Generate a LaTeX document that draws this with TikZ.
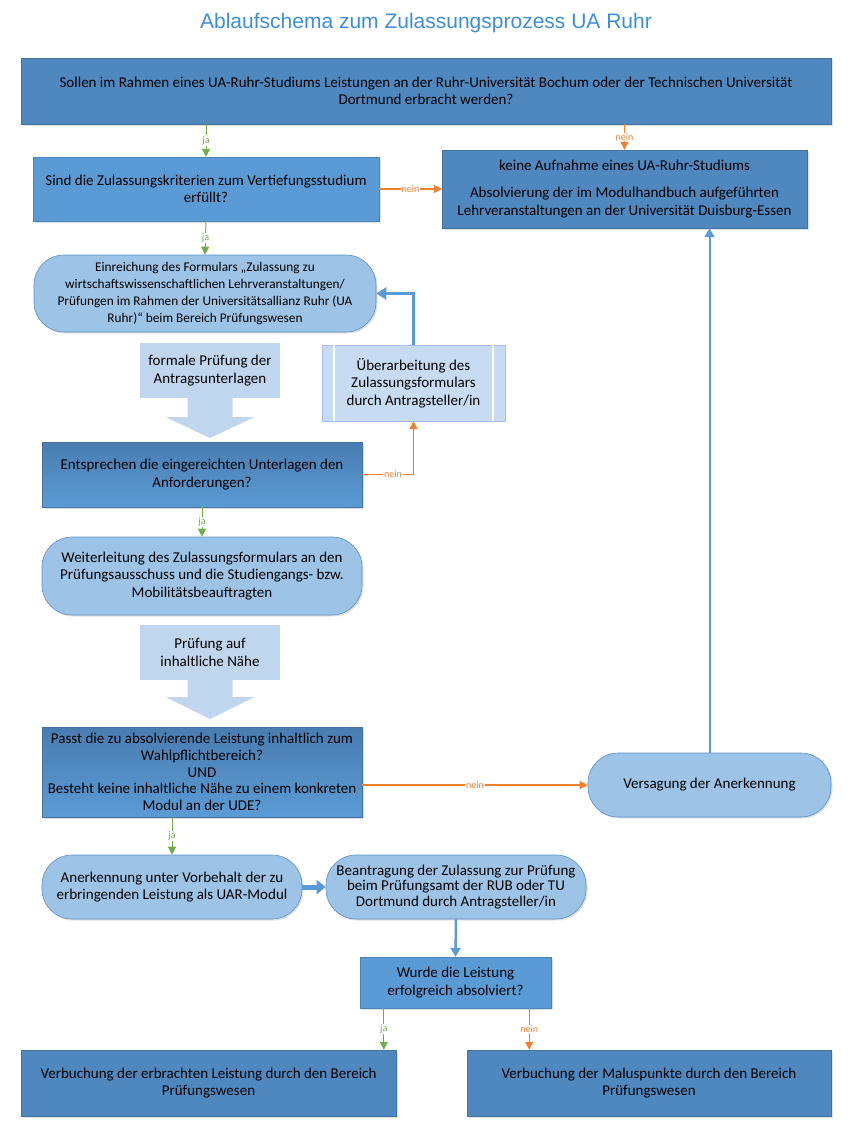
\documentclass[tikz,border=0pt]{standalone}
\usepackage{fontspec}
\setmainfont{Carlito}
\newfontfamily\titlefont{Liberation Sans}
\usepackage{tikz}
\usetikzlibrary{arrows.meta}
\usetikzlibrary{calc}
\usetikzlibrary{shadows}
\definecolor{blueDark}{HTML}{4F87BF}
\definecolor{blueMid}{HTML}{5B9BD5}
\definecolor{blueLight}{HTML}{9DC3E6}
\definecolor{blueEdge}{HTML}{5A8FCB}
\definecolor{bluePale}{HTML}{BFD6EE}
\definecolor{blueProc}{HTML}{C7DCF2}
\definecolor{blueLine}{HTML}{5B9BD5}
\definecolor{titleBlue}{HTML}{3C8DDD}
\definecolor{jaGreen}{HTML}{70AD47}
\definecolor{neinOrange}{HTML}{F07F2E}
\tikzset{
	titlestyle/.style={font=\titlefont\fontsize{21}{24}\selectfont,text=titleBlue},
	darkbox/.style={rectangle,fill=blueDark,draw=blueDark!85!black,line width=0.4pt,align=center,inner sep=2pt,
		drop shadow={shadow xshift=1.5pt,shadow yshift=-1.5pt,opacity=0.25}},
	midbox/.style={darkbox,fill=blueMid,draw=blueMid!85!black},
	shadebox/.style={darkbox,top color=blueDark!92!black,bottom color=blueMid},
	roundbox/.style={rectangle,rounded corners=30pt,fill=blueLight,draw=blueEdge,line width=0.6pt,align=center,inner sep=2pt,
		drop shadow={shadow xshift=1.5pt,shadow yshift=-1.5pt,opacity=0.25}},
	arrowbox/.style={rectangle,fill=bluePale,align=center,inner sep=2pt},
	procbox/.style={rectangle,fill=blueProc,draw=blueProc!85!blue,line width=0.4pt,align=center,inner sep=2pt},
	jaline/.style={draw=jaGreen,line width=1pt,-{Triangle[width=8pt,length=8pt]}},
	neinline/.style={draw=neinOrange,line width=1.2pt,-{Triangle[width=8pt,length=8pt]}},
	jalabel/.style={fill=white,inner sep=1pt,text=jaGreen,font=\fontsize{10}{10}\selectfont},
	neinlabel/.style={fill=white,inner sep=1pt,text=neinOrange,font=\fontsize{10}{10}\selectfont},
	blueline/.style={draw=blueLine,line width=2pt,-{Triangle[width=10pt,length=9pt]}}
}
\begin{document}
\begin{tikzpicture}[x=1pt,y=-1pt]
	\fontsize{15}{17.5}\selectfont
	\useasboundingbox (0,0) rectangle (854,1148);
	\node[titlestyle] (titel) at (426,23) {Ablaufschema zum Zulassungsprozess UA Ruhr};
	\node[darkbox,minimum width=810,minimum height=66] (frage) at (426,91) {Sollen im Rahmen eines UA-Ruhr-Studiums Leistungen an der Ruhr-Universität Bochum oder der Technischen Universität\\Dortmund erbracht werden?};
	\node[midbox,minimum width=346,minimum height=64] (kriterien) at (206,189) {Sind die Zulassungskriterien zum Vertiefungsstudium\\erfüllt?};
	\node[darkbox,minimum width=365,minimum height=78] (keine) at (624.5,189) {keine Aufnahme eines UA-Ruhr-Studiums\\[10pt]Absolvierung der im Modulhandbuch aufgeführten\\Lehrveranstaltungen an der Universität Duisburg-Essen};
	\node[roundbox,minimum width=342,minimum height=77,font=\fontsize{13.3}{16.7}\selectfont] (einreichung) at (205,293.5) {Einreichung des Formulars „Zulassung zu\\wirtschaftswissenschaftlichen Lehrveranstaltungen/\\Prüfungen im Rahmen der Universitätsallianz Ruhr (UA\\Ruhr)“ beim Bereich Prüfungswesen};
	\node[arrowbox,minimum width=140,minimum height=55] (formal) at (210,370.5) {formale Prüfung der\\Antragsunterlagen};
	\fill[bluePale] (187.5,398) -- (232.5,398) -- (232.5,417) -- (254.5,417) -- (210,438) -- (165.5,417) -- (187.5,417) -- cycle;
	\node[procbox,minimum width=183,minimum height=76] (ueberarbeitung) at (413.5,383) {Überarbeitung des\\Zulassungsformulars\\durch Antragsteller/in};
	\draw[white,line width=1.5pt] ([xshift=12pt]ueberarbeitung.north west) -- ([xshift=12pt]ueberarbeitung.south west);
	\draw[white,line width=1.5pt] ([xshift=-12pt]ueberarbeitung.north east) -- ([xshift=-12pt]ueberarbeitung.south east);
	\node[shadebox,minimum width=320,minimum height=65] (entsprechen) at (202,474.5) {Entsprechen die eingereichten Unterlagen den\\Anforderungen?};
	\node[roundbox,minimum width=320,minimum height=78] (weiterleitung) at (202,576) {Weiterleitung des Zulassungsformulars an den\\Prüfungsausschuss und die Studiengangs- bzw.\\Mobilitätsbeauftragten};
	\node[arrowbox,minimum width=140,minimum height=55] (inhalt) at (210,652.5) {Prüfung auf\\inhaltliche Nähe};
	\fill[bluePale] (187.5,680) -- (232.5,680) -- (232.5,697) -- (254.5,697) -- (210,719) -- (165.5,697) -- (187.5,697) -- cycle;
	\node[shadebox,minimum width=320,minimum height=90,font=\fontsize{15}{16.8}\selectfont] (passt) at (202,772) {Passt die zu absolvierende Leistung inhaltlich zum\\Wahlpflichtbereich?\\UND\\Besteht keine inhaltliche Nähe zu einem konkreten\\Modul an der UDE?};
	\node[roundbox,minimum width=243,minimum height=64] (versagung) at (709.5,785) {Versagung der Anerkennung};
	\node[roundbox,minimum width=260,minimum height=64] (anerkennung) at (172,887) {Anerkennung unter Vorbehalt der zu\\erbringenden Leistung als UAR-Modul};
	\node[roundbox,minimum width=260,minimum height=64,font=\fontsize{15}{15.5}\selectfont] (beantragung) at (456,887) {Beantragung der Zulassung zur Prüfung\\beim Prüfungsamt der RUB oder TU\\Dortmund durch Antragsteller/in};
	\node[midbox,minimum width=191,minimum height=51] (wurde) at (455.5,982.5) {Wurde die Leistung\\erfolgreich absolviert?};
	\node[darkbox,minimum width=375,minimum height=66] (buchungL) at (208.5,1083) {Verbuchung der erbrachten Leistung durch den Bereich\\Prüfungswesen};
	\node[darkbox,minimum width=364,minimum height=66] (buchungR) at (649,1083) {Verbuchung der Maluspunkte durch den Bereich\\Prüfungswesen};
	\coordinate (wurdeJa) at ($(wurde.south west)+(24,0)$);
	\coordinate (wurdeNein) at ($(wurde.south east)+(-22,0)$);
	\draw[jaline] (kriterien.north |- frage.south) -- node[jalabel] {ja} (kriterien.north);
	\draw[neinline] (keine.north |- frage.south) -- node[neinlabel] {nein} (keine.north);
	\draw[neinline] (kriterien.east) -- node[neinlabel] {nein} (kriterien.east -| keine.west);
	\draw[jaline] (kriterien.south) -- node[jalabel] {ja} (einreichung.north);
	\draw[blueline,line width=3pt,-{Triangle[width=12pt,length=10pt]}] (ueberarbeitung.north) |- (einreichung.east);
	\draw[neinline] (entsprechen.east) -| node[neinlabel,pos=0.3] {nein} (ueberarbeitung.south);
	\draw[jaline] (entsprechen.south) -- node[jalabel] {ja} (weiterleitung.north);
	\draw[neinline] (passt.east |- versagung.west) -- node[neinlabel] {nein} (versagung.west);
	\draw[blueline] (versagung.north) -- (versagung.north |- keine.south);
	\draw[jaline] (anerkennung.north |- passt.south) -- node[jalabel] {ja} (anerkennung.north);
	\draw[blueline,line width=5pt,-{Triangle[width=14pt,length=9pt]}] (anerkennung.east) -- (beantragung.west);
	\draw[blueline,line width=2.5pt] (beantragung.south) -- (wurde.north);
	\draw[jaline] (wurdeJa) -- node[jalabel] {ja} (wurdeJa |- buchungL.north);
	\draw[neinline] (wurdeNein) -- node[neinlabel] {nein} (wurdeNein |- buchungR.north);
\end{tikzpicture}
\end{document}
